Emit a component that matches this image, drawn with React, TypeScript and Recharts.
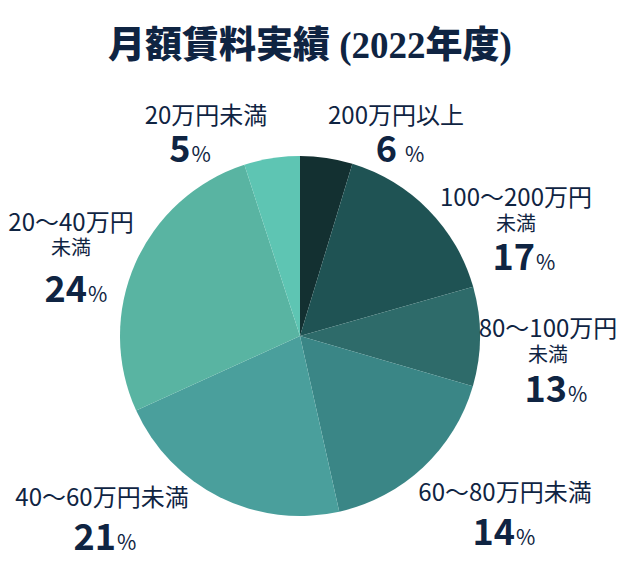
import React from 'react';
import { PieChart, Pie, Cell } from 'recharts';

// Category labels (line 1 / optional line 2)
const labelLine1 = ['200万円以上', '100～200万円', '80～100万円', '60～80万円未満', '40～60万円未満', '20～40万円', '20万円未満'];
const labelLine2 = ['', '未満', '未満', '', '', '未満', ''];
// Percent as printed on the labels
const labelPercent = [6, 17, 13, 14, 21, 24, 5];
// Slice shares as drawn in the picture
const sliceShare = [4.7, 15.9, 8.9, 17.0, 21.7, 26.8, 5.0];

const colors = ['#133031', '#1f5354', '#2e6b6a', '#3a8686', '#4a9f9c', '#59b4a2', '#5ec5b3'];

// where each label sits: centre x, baselines
const labelPos = [
  { x: 396, y1: 124, xn: 400, yn: 162, gap: true },
  { x: 516, y1: 206, y2: 231, xn: 524, yn: 270 },
  { x: 548, y1: 337, y2: 362, xn: 556, yn: 402 },
  { x: 505, y1: 501, xn: 504, yn: 545 },
  { x: 102, y1: 506, xn: 105, yn: 550 },
  { x: 71, y1: 231, y2: 255, xn: 76, yn: 302 },
  { x: 206, y1: 124, xn: 190, yn: 162 },
];

const data = labelLine1.map((name, i) => ({ name, value: sliceShare[i] }));

const TEXT = '#0f2442';
const FONT = "'Noto Sans CJK JP', 'Noto Sans', sans-serif";

const renderLabel = (props: any) => {
  const i = props.index;
  const p = labelPos[i];
  return (
    <g key={`lbl-${i}`} fontFamily={FONT} fill={TEXT}>
      <text x={p.x} y={p.y1} textAnchor="middle" fontSize={24} fill={TEXT}>
        {labelLine1[i]}
      </text>
      {labelLine2[i] && p.y2 && (
        <text x={p.x} y={p.y2} textAnchor="middle" fontSize={20} fill={TEXT}>
          {labelLine2[i]}
        </text>
      )}
      <text x={p.xn} y={p.yn} textAnchor="middle" fill={TEXT}>
        <tspan fontSize={36} fontWeight={700}>{labelPercent[i]}</tspan>
        <tspan fontSize={21} dx={p.gap ? 8 : 1}>%</tspan>
      </text>
    </g>
  );
};

export default function App() {
  return (
    <div style={{ position: 'absolute', left: 0, top: 0, width: 622, height: 580, background: '#fff' }}>
      <div
        style={{
          position: 'absolute',
          left: 0,
          top: 22,
          width: 620,
          textAlign: 'center',
          fontFamily: "'Liberation Serif', 'Noto Sans CJK JP', serif",
          fontWeight: 900,
          fontSize: 37,
          lineHeight: '48px',
          color: TEXT,
        }}
      >
        月額賃料実績 (2022年度)
      </div>
      <PieChart width={622} height={580} margin={{ top: 0, right: 0, bottom: 0, left: 0 }}>
        <Pie
          data={data}
          dataKey="value"
          nameKey="name"
          cx={300}
          cy={336}
          outerRadius={180}
          startAngle={90}
          endAngle={-270}
          stroke="none"
          labelLine={false}
          label={renderLabel}
          isAnimationActive={false}
        >
          {data.map((d, i) => (
            <Cell key={d.name} fill={colors[i]} />
          ))}
        </Pie>
      </PieChart>
    </div>
  );
}
